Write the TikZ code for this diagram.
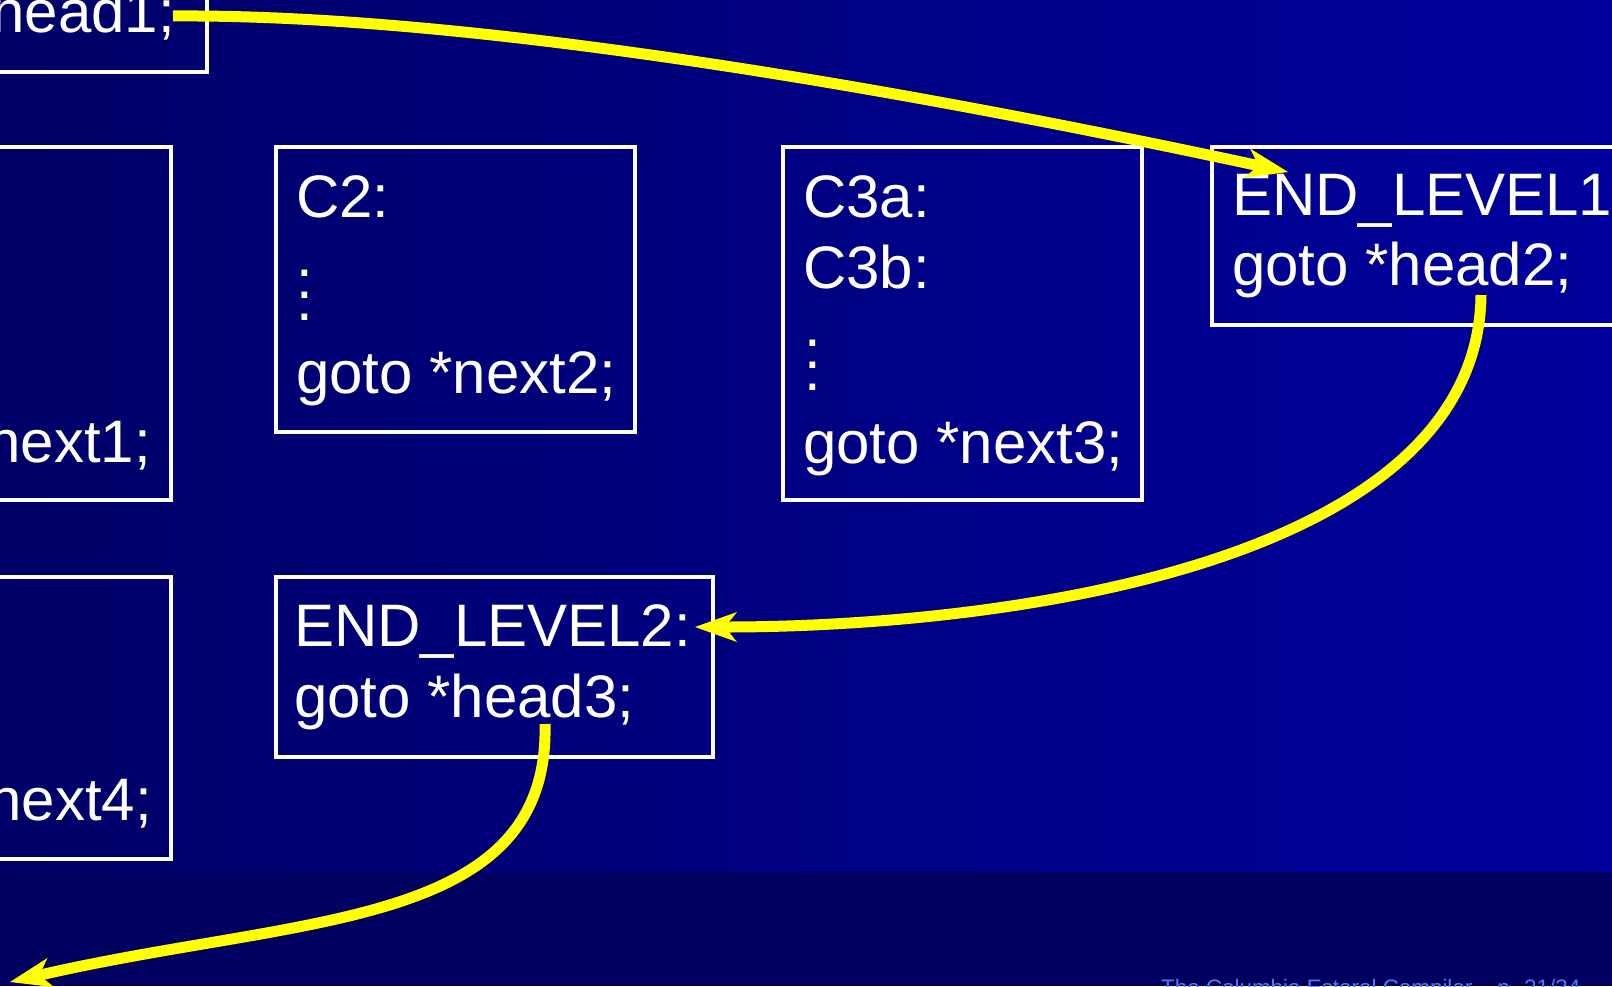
\documentclass[tikz,border=0pt]{standalone}
\usepackage{fontspec}
\setmainfont{Liberation Sans}
\usetikzlibrary{arrows.meta,calc}
\definecolor{bgL}{RGB}{0,0,104}
\definecolor{bgR}{RGB}{0,0,156}
\definecolor{bandc}{RGB}{0,0,96}
\definecolor{footc}{RGB}{90,120,235}
\definecolor{arrc}{RGB}{255,255,0}
\newcommand\threedots{\vbox{\baselineskip=22pt\lineskiplimit=-100pt\hbox{.}\hbox{.}\hbox{.}}}
\begin{document}
\begin{tikzpicture}[x=1pt,y=-1pt,
  codebox/.style={draw=white,line width=4pt,inner sep=0pt,outer sep=0pt},
  codetext/.style={text=white,inner sep=0pt,outer sep=0pt,anchor=base west,font=\fontsize{60}{72}\selectfont},
  codetextr/.style={codetext,anchor=base east},
  yarrow/.style={draw=arrc,line width=11pt,-{Stealth[length=42pt,width=30pt,inset=12pt,line width=0pt]}}]
\useasboundingbox (0,0) rectangle (1612,986);
\clip (0,0) rectangle (1612,986);
% background
\fill[left color=bgL,right color=bgR] (0,0) rectangle (1612,872);
\fill[bandc] (0,872) rectangle (1612,986);
% boxes
\node[codebox,minimum width=257pt,minimum height=122pt] (h1box) at (78.5,11) {};
\node[codebox,minimum width=221pt,minimum height=353pt] (n1box) at (60.5,323.5) {};
\node[codebox,minimum width=221pt,minimum height=282pt] (n4box) at (60.5,718) {};
\node[codebox,minimum width=359pt,minimum height=285pt] (c2box) at (455.5,289.5) {};
\node[codebox,minimum width=359pt,minimum height=353pt] (c3box) at (962.5,323.5) {};
\node[codebox,minimum width=488pt,minimum height=178pt] (e1box) at (1456,236) {};
\node[codebox,minimum width=437pt,minimum height=180pt] (e2box) at (494.5,667) {};
% texts
\node[codetextr] (h1t) at (175,32) {head1;};
\node[codetextr] (n1t) at (151,462) {next1;};
\node[codetextr] (n4t) at (152,820) {next4;};
\node[codetext] (c2a) at (296,217) {C2:};
\node[codetext] (c2d) at (296,320) {\threedots};
\node[codetext] (c2g) at (296,393) {goto *next2;};
\node[codetext] (c3a) at (803,217) {C3a:};
\node[codetext] (c3b) at (803,288) {C3b:};
\node[codetext] (c3d) at (804,390) {\threedots};
\node[codetext] (c3g) at (803,463) {goto *next3;};
\node[codetext] (e1a) at (1232,215) {END\_LEVEL1};
\node[codetext] (e1g) at (1232,285) {goto *head2;};
\node[codetext] (e2a) at (294,646) {END\_LEVEL2:};
\node[codetext] (e2g) at (294,717) {goto *head3;};
\node[anchor=base west,text=footc,inner sep=0pt,font=\fontsize{22.4}{26}\selectfont] (foot) at (1161,995) {The Columbia Esterel Compiler – p. 21/34};
% connectors
\coordinate (a1s) at ($(h1t.base east)+(-2,-16)$);
\coordinate (a1e) at ($(e1box.north west)+(76,25)$);
\coordinate (a2s) at (1481,295);
\coordinate (a2e) at ($(e2box.east)+(-18,-40)$);
\coordinate (a3s) at (545,724);
\coordinate (a3e) at (10,982);
\draw[yarrow] (a1s) .. controls (450,14) and (850,78) .. (a1e);
\draw[yarrow] (a2s) .. controls (1478,565) and (1000,627) .. (a2e);
\draw[yarrow] (a3s) .. controls (550,930) and (300,915) .. (a3e);
\end{tikzpicture}
\end{document}
